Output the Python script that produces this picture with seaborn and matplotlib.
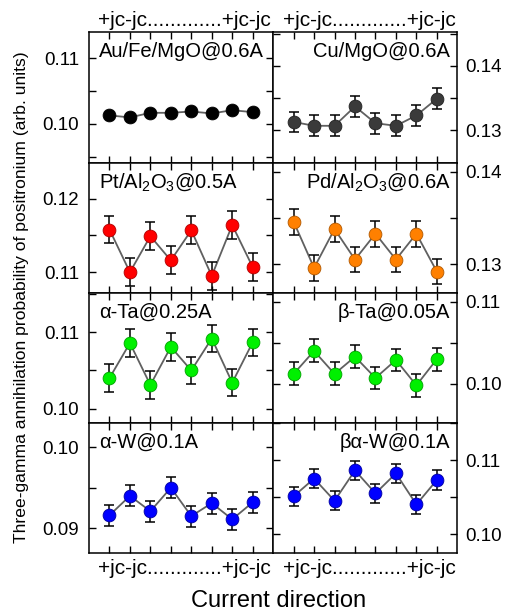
import numpy as np
import pandas as pd
import matplotlib
matplotlib.use("Agg")
import matplotlib.pyplot as plt
from matplotlib.ticker import MultipleLocator, FormatStrFormatter
import seaborn as sns

# ---------------------------------------------------------------------------
# data
# ---------------------------------------------------------------------------
positions = [1, 2, 3, 4, 5, 6, 7, 8]

samples = ["Au/Fe/MgO@0.6A", "Cu/MgO@0.6A",
           "Pt/Al$_2$O$_3$@0.5A", "Pd/Al$_2$O$_3$@0.6A",
           "\u03b1-Ta@0.25A", "\u03b2-Ta@0.05A",
           "\u03b1-W@0.1A", "\u03b2\u03b1-W@0.1A"]

au_fe_mgo = [0.1013, 0.1010, 0.1017, 0.1017, 0.1019, 0.1016, 0.1021, 0.1018]
cu_mgo = [0.1313, 0.1307, 0.1307, 0.1337, 0.1311, 0.1307, 0.1323, 0.1349]
pt_al2o3 = [0.1158, 0.1100, 0.1149, 0.1116, 0.1157, 0.1095, 0.1164, 0.1107]
pd_al2o3 = [0.1346, 0.1296, 0.1338, 0.1305, 0.1333, 0.1305, 0.1333, 0.1292]
alpha_ta = [0.1040, 0.1086, 0.1031, 0.1081, 0.1050, 0.1092, 0.1034, 0.1087]
beta_ta = [0.1012, 0.1040, 0.1012, 0.1033, 0.1007, 0.1029, 0.0998, 0.1030]
alpha_w = [0.0916, 0.0940, 0.0921, 0.0950, 0.0915, 0.0931, 0.0911, 0.0932]
beta_alpha_w = [0.1051, 0.1075, 0.1045, 0.1086, 0.1055, 0.1082, 0.1040, 0.1073]

errors = [0.0003, 0.0016, 0.0019, 0.0014, 0.0018, 0.0014, 0.0013, 0.0013]

series = [au_fe_mgo, cu_mgo, pt_al2o3, pd_al2o3, alpha_ta, beta_ta, alpha_w, beta_alpha_w]

# styles / axis ranges
colors = ["#000000", "#3a3a3a", "#ff0000", "#ff8000", "#00f000", "#00f000", "#0000ff", "#0000ff"]
edges = ["#000000", "#222222", "#b00000", "#b05800", "#00a000", "#00a000", "#0000a0", "#0000a0"]
ylims = [(0.0941, 0.1140), (0.1250, 0.1452),
         (0.1072, 0.1249), (0.1269, 0.1410),
         (0.0981, 0.1152), (0.0952, 0.1111),
         (0.0869, 0.1030), (0.0974, 0.1150)]

direction_text = "+jc-jc" + "." * 13 + "+jc-jc"

# ---------------------------------------------------------------------------
# figure
# ---------------------------------------------------------------------------
sns.set_style("ticks")
plt.rcParams["font.family"] = ["Liberation Sans", "DejaVu Sans"]
plt.rcParams["mathtext.default"] = "regular"
plt.rcParams["text.color"] = "black"
plt.rcParams["axes.labelcolor"] = "black"

fig, axes = plt.subplots(4, 2, figsize=(5.16, 6.16), dpi=100)
fig.subplots_adjust(left=89 / 516, right=457.3 / 516, top=1 - 32.3 / 616,
                    bottom=1 - 553.3 / 616, hspace=0, wspace=0)

for i, ax in enumerate(axes.flat):
    row, col = divmod(i, 2)
    df = pd.DataFrame({"pos": positions, "val": series[i]})

    sns.lineplot(data=df, x="pos", y="val", ax=ax, color="#606060", lw=1.3, zorder=1)
    ax.errorbar(df["pos"], df["val"], yerr=errors[i], fmt="none", ecolor="black",
                elinewidth=1.1, capsize=3.5, capthick=1.1, zorder=2)
    sns.scatterplot(data=df, x="pos", y="val", ax=ax, color=colors[i], s=85,
                    edgecolor=edges[i], linewidth=0.6, zorder=3)

    ax.set_xlim(0, 9)
    ax.set_ylim(*ylims[i])
    ax.set_xticks(positions)
    ax.set_xticklabels([])
    ax.yaxis.set_major_locator(MultipleLocator(0.01))
    ax.yaxis.set_minor_locator(MultipleLocator(0.005))
    ax.yaxis.set_major_formatter(FormatStrFormatter("%.2f"))
    ax.set_xlabel("")
    ax.set_ylabel("")

    ax.tick_params(axis="both", which="both", direction="in", top=True, right=True,
                   length=5, width=1, labelsize=13.5, colors="black")
    if col == 0:
        ax.tick_params(axis="y", which="both", labelleft=True, labelright=False, pad=7)
    else:
        ax.tick_params(axis="y", which="both", labelleft=False, labelright=True, pad=6)

    for sp in ax.spines.values():
        sp.set_linewidth(1.1)
        sp.set_color("black")

    if col == 0:
        ax.text(0.055, 0.85, samples[i], transform=ax.transAxes, ha="left",
                va="center", fontsize=14.5)
    else:
        ax.text(0.962, 0.85, samples[i], transform=ax.transAxes, ha="right",
                va="center", fontsize=14.5)

    if row == 0:
        ax.text(0.52, 1.02, direction_text, transform=ax.transAxes, ha="center",
                va="bottom", fontsize=15)
    if row == 3:
        ax.text(0.52, -0.045, direction_text, transform=ax.transAxes, ha="center",
                va="top", fontsize=15)

fig.text(279 / 516, 1 - 601 / 616, "Current direction", ha="center", va="center",
         fontsize=17)
fig.text(22 / 516, 1 - 297 / 616,
         "Three-gamma annihilation probability of positronium (arb. units)",
         rotation=90, ha="center", va="center", fontsize=12.6)

fig.savefig("out.png", dpi=100)
